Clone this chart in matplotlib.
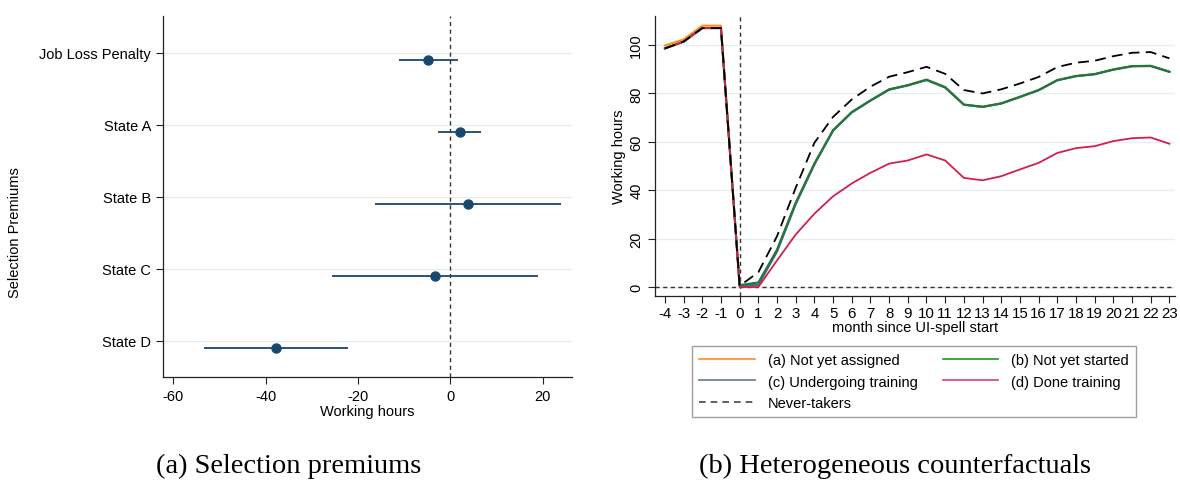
import matplotlib
matplotlib.use("Agg")
import matplotlib.pyplot as plt
from matplotlib.lines import Line2D
import numpy as np

# ---------------- data ----------------
categories = ["Job Loss Penalty", "State A", "State B", "State C", "State D"]
estimates = [-4.9, 2.0, 3.8, -3.3, -37.7]
ci_low = [-11.2, -2.8, -16.4, -25.6, -53.3]
ci_high = [1.6, 6.7, 24.0, 19.0, -22.1]

months = list(range(-4, 24))
not_yet_assigned = [99.8, 102.3, 108.0, 108.0, 0.5, 0.5, 15.4, 34.8, 51.0, 64.8, 72.3, 77.1, 81.7, 83.4,
                    85.7, 82.6, 75.4, 74.5, 75.9, 78.6, 81.4, 85.5, 87.2, 88.0, 89.9, 91.3, 91.4, 89.0]
not_yet_started = [98.6, 101.4, 107.0, 107.0, 0.8, 1.9, 15.4, 34.8, 51.0, 64.8, 72.3, 77.1, 81.7, 83.4,
                   85.7, 82.6, 75.4, 74.5, 75.9, 78.6, 81.4, 85.5, 87.2, 88.0, 89.9, 91.3, 91.4, 89.0]
undergoing = [98.6, 101.4, 107.0, 107.0, 0.5, 1.0, 14.6, 34.2, 50.6, 64.6, 72.1, 77.0, 81.5, 83.3,
              85.5, 82.4, 75.3, 74.4, 75.8, 78.5, 81.3, 85.4, 87.1, 87.9, 89.8, 91.2, 91.3, 88.9]
done_training = [98.6, 101.4, 107.0, 107.0, 0.0, 0.0, 11.0, 21.7, 30.3, 37.5, 42.8, 47.2, 51.0, 52.3,
                 54.8, 52.3, 45.1, 44.1, 45.8, 48.6, 51.3, 55.4, 57.4, 58.2, 60.3, 61.5, 61.8, 59.2]
never_takers = [98.6, 101.4, 107.0, 107.0, 0.5, 6.1, 21.0, 41.0, 59.6, 70.3, 77.5, 82.8, 86.9, 88.8,
                91.0, 88.1, 81.4, 80.0, 81.7, 84.1, 86.8, 90.9, 92.7, 93.5, 95.4, 96.8, 97.1, 94.5]

series_labels = ["(a) Not yet assigned", "(b) Not yet started", "(c) Undergoing training",
                 "(d) Done training", "Never-takers"]

# ---------------- style ----------------
plt.rcParams['font.family'] = ['Liberation Sans', 'DejaVu Sans']
DARK = "#1a476f"
GRID = "#e6eef0"
W, H = 1180, 481

fig = plt.figure(figsize=(11.8, 4.81), dpi=100)

# ---------------- left panel ----------------
ax1 = fig.add_axes([163 / W, 1 - 378 / H, (572 - 163) / W, (378 - 17) / H])
ypos = np.arange(1, len(categories) + 1)
est = np.array(estimates)
lo = np.array(ci_low)
hi = np.array(ci_high)
yoff = ypos + 0.1
ax1.hlines(yoff, lo, hi, color=DARK, lw=1.3, zorder=3)
ax1.plot(est, yoff, 'o', color=DARK, ms=6.5, zorder=4)
ax1.axvline(0, color="#333333", lw=1.0, ls=(0, (3, 2.5)), zorder=2)
ax1.set_yticks(ypos)
ax1.set_yticklabels(categories, fontsize=10.5)
ax1.set_ylim(5.5, 0.49)
ax1.set_xlim(-62.2, 26.3)
ax1.set_xticks([-60, -40, -20, 0, 20])
ax1.set_xticklabels(["-60", "-40", "-20", "0", "20"], fontsize=10.5)
ax1.grid(axis='y', color=GRID, lw=1.0, zorder=0)
ax1.set_axisbelow(True)
for s in ["top", "right"]:
    ax1.spines[s].set_visible(False)
for s in ["left", "bottom"]:
    ax1.spines[s].set_color("#222222")
    ax1.spines[s].set_linewidth(0.9)
ax1.tick_params(axis='both', direction='out', length=5, width=0.8, color="#222222")
ax1.set_xlabel("Working hours", fontsize=10.5, labelpad=1)
ax1.set_ylabel("Selection Premiums", fontsize=10.5)
ax1.yaxis.set_label_coords((22 - 163) / 409, (378 - 233) / 361)

# ---------------- right panel ----------------
ax2 = fig.add_axes([655 / W, 1 - 297 / H, (1175 - 655) / W, (297 - 17) / H])
ax2.grid(axis='y', color=GRID, lw=1.0, zorder=0)
ax2.set_axisbelow(True)
ax2.plot(months, not_yet_assigned, color="#ff8c1a", lw=1.5, zorder=3)
ax2.plot(months, undergoing, color="#3f6a99", lw=1.5, zorder=4)
ax2.plot(months, not_yet_started, color="#1f7a3a", lw=1.5, zorder=5)
ax2.plot(months, done_training, color="#d0204e", lw=1.3, zorder=6)
ax2.plot(months, never_takers, color="black", lw=1.3, ls=(0, (6, 3.5)), zorder=7)
ax2.axvline(0, color="#333333", lw=1.0, ls=(0, (3, 2.5)), zorder=2)
ax2.axhline(0, color="#333333", lw=1.0, ls=(0, (3, 2.5)), zorder=2)
ax2.set_xlim(-4.53, 23.3)
ax2.set_ylim(-3.7, 112)
ax2.set_xticks(months)
ax2.set_xticklabels([str(m) for m in months], fontsize=10.8)
ax2.set_yticks([0, 20, 40, 60, 80, 100])
ax2.set_yticklabels(["0", "20", "40", "60", "80", "100"], fontsize=10.5, rotation=90, va='center')
for s in ["top", "right"]:
    ax2.spines[s].set_visible(False)
for s in ["left", "bottom"]:
    ax2.spines[s].set_color("#222222")
    ax2.spines[s].set_linewidth(0.9)
ax2.tick_params(axis='both', direction='out', length=5, width=0.8, color="#222222")
ax2.tick_params(axis='x', pad=2)
ax2.set_xlabel("month since UI-spell start", fontsize=10.5, labelpad=0)
ax2.set_ylabel("Working hours", fontsize=10.5, labelpad=2)

# legend handles in legend colours
handles = [Line2D([], [], color="#ff8c1a", lw=1.2),
           Line2D([], [], color="#1a9b1a", lw=1.2),
           Line2D([], [], color="#5a7a9a", lw=1.2),
           Line2D([], [], color="#d6476b", lw=1.2),
           Line2D([], [], color="#444444", lw=1.2, ls=(0, (4, 3)))]
order = [0, 2, 4, 1, 3]
leg = fig.legend([handles[i] for i in order], [series_labels[i] for i in order],
                 loc='upper left', bbox_to_anchor=(692 / W, 1 - 347 / H),
                 ncol=2, fontsize=10.5, frameon=True, fancybox=False,
                 edgecolor="#888888", handlelength=3.8, columnspacing=1.7,
                 labelspacing=0.5, borderpad=0.5, handletextpad=0.9, borderaxespad=0)
leg.get_frame().set_linewidth(1.0)

# captions
fig.text(289 / W, 1 - 466 / H, "(a) Selection premiums", ha='center', va='center',
         fontsize=20.5, family=['Liberation Serif', 'DejaVu Serif'])
fig.text(895 / W, 1 - 466 / H, "(b) Heterogeneous counterfactuals", ha='center', va='center',
         fontsize=20.5, family=['Liberation Serif', 'DejaVu Serif'])

fig.savefig("out.png", dpi=100)
